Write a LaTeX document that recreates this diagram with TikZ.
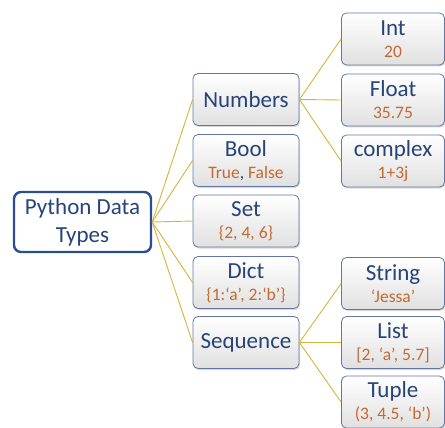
\documentclass[tikz,border=0pt]{standalone}
\usepackage{fontspec}
\setmainfont{Carlito}
\usetikzlibrary{shadows}

\definecolor{titleblue}{RGB}{38,68,120}
\definecolor{valorange}{RGB}{197,106,48}
\definecolor{boxline}{RGB}{100,118,160}
\definecolor{rootline}{RGB}{44,78,140}
\definecolor{linkgold}{RGB}{214,180,60}

\newcommand{\val}[1]{{\fontsize{17.5}{21}\selectfont\color{valorange}#1}}

\tikzset{
  typebox/.style={draw=boxline, line width=0.8pt, rounded corners=5pt,
    top color=white, bottom color=black!12,
    drop shadow={opacity=0.3, shadow xshift=1pt, shadow yshift=-1.5pt},
    align=center, text=titleblue, font=\fontsize{23}{22}\selectfont,
    inner sep=0pt, minimum height=52pt},
  midbox/.style={typebox, minimum width=106pt},
  leafbox/.style={typebox, minimum width=103pt},
  rootbox/.style={draw=rootline, line width=2.4pt, rounded corners=7pt, fill=white,
    align=center, text=titleblue, font=\fontsize{23}{28}\selectfont,
    inner sep=0pt, minimum width=137pt, minimum height=60pt},
  link/.style={draw=linkgold, line width=0.9pt}
}

\begin{document}
\begin{tikzpicture}[x=1pt, y=-1pt]
  \useasboundingbox (0,0) rectangle (445,428);

  \node[rootbox] (root) at (82.5,222) {Python Data\\Types};

  % middle column
  \node[midbox] (num)  at (246,99.5)  {Numbers};
  \node[midbox] (bool) at (246,160.5) {Bool\\\val{True{\color{titleblue},} False}};
  \node[midbox] (set)  at (246,221)   {Set\\\val{\{2, 4, 6\}}};
  \node[midbox] (dict) at (246,282.5) {Dict\\\val{\{1:‘a’, 2:‘b’\}}};
  \node[midbox] (seq)  at (246,342.5) {Sequence};

  % right column
  \node[leafbox] (int)   at (393,39)    {Int\\\val{20}};
  \node[leafbox] (float) at (393,100)   {Float\\\val{35.75}};
  \node[leafbox] (cplx)  at (393,161)   {complex\\\val{1+3j}};
  \node[leafbox] (str)   at (393,283.5) {String\\\val{‘Jessa’}};
  \node[leafbox] (list)  at (393,342.5) {List\\\val{[2, ‘a’, 5.7]}};
  \node[leafbox] (tuple) at (393,402)   {Tuple\\\val{(3, 4.5, ‘b’)}};

  \path[link]
    (root.east) edge (num.west)
                edge (bool.west)
                edge (set.west)
                edge (dict.west)
                edge (seq.west)
    (num.east)  edge (int.west)
                edge (float.west)
                edge (cplx.west)
    (seq.east)  edge (str.west)
                edge (list.west)
                edge (tuple.west);
\end{tikzpicture}
\end{document}
